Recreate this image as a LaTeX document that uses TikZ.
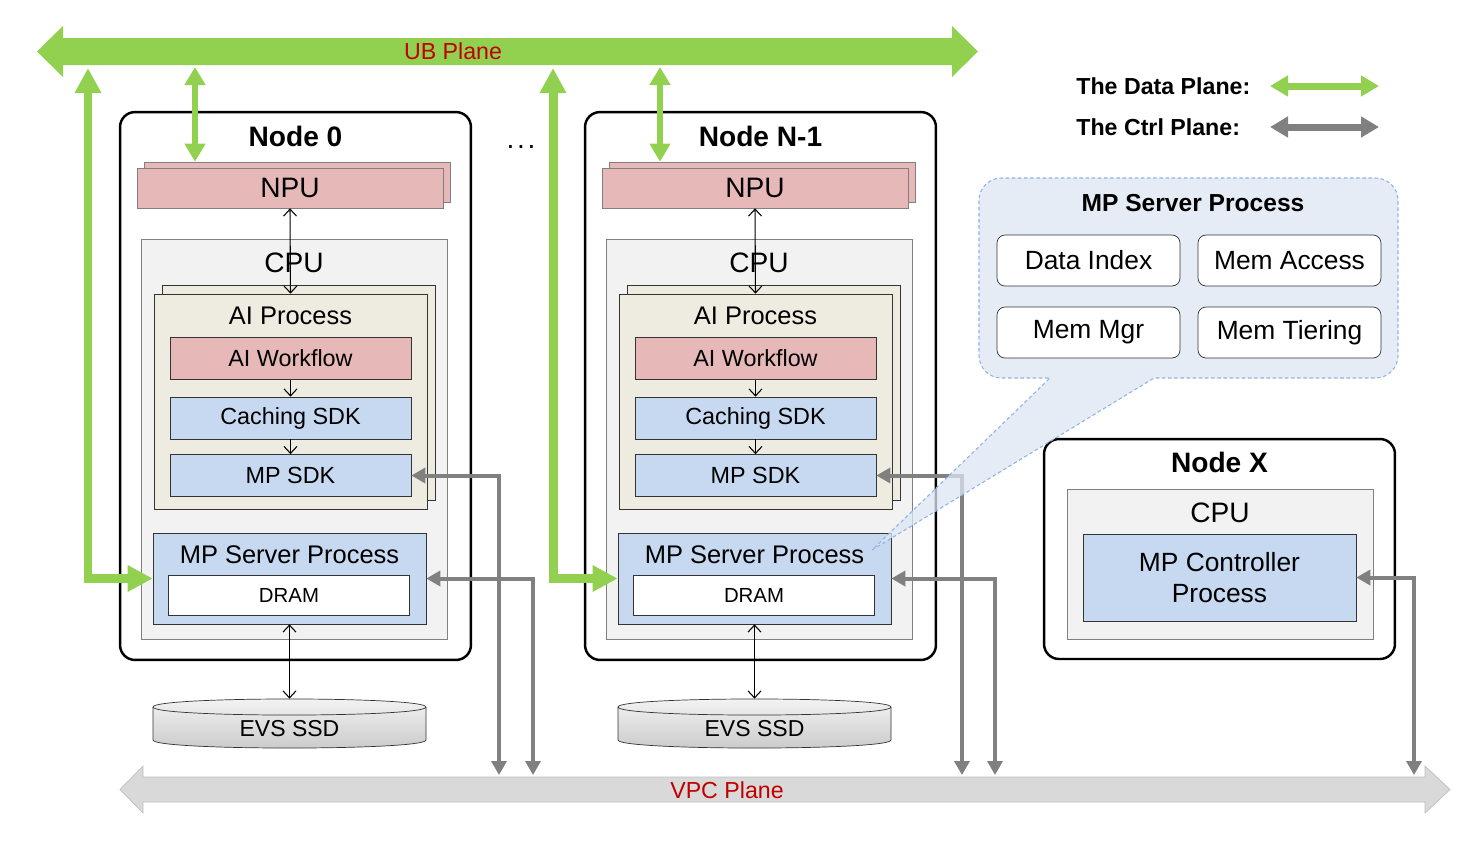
\documentclass[tikz,border=0pt]{standalone}
\usepackage{fontspec}
\setmainfont{Liberation Sans}
\usepackage{xcolor}
\usepackage{tikz}
\usetikzlibrary{arrows.meta, positioning}

\definecolor{ubgreen}{HTML}{92D050}
\definecolor{planered}{HTML}{C00000}
\definecolor{npupink}{HTML}{E6B9B8}
\definecolor{sdkblue}{HTML}{C6D9F1}
\definecolor{proctan}{HTML}{EEECE1}
\definecolor{cpugray}{HTML}{F2F2F2}
\definecolor{ctrlgray}{HTML}{808080}
\definecolor{vpcgray}{HTML}{D9D9D9}
\definecolor{vpcedge}{HTML}{BFBFBF}
\definecolor{bubblefill}{HTML}{DCE6F2}
\definecolor{bubbleline}{HTML}{8EB4E3}

\begin{document}
\begin{tikzpicture}[x=0.02cm, y=-0.02cm, >={Straight Barb[length=1.4mm, width=2.6mm]}]
    \tikzstyle{machine} = [rectangle, draw=black, line width=1.4pt, rounded corners=0.3cm, minimum width=7.02cm]
    \tikzstyle{nodetitle} = [font=\fontsize{16}{19}\selectfont\bfseries]
    \tikzstyle{boxtext} = [font=\fontsize{16}{19}\selectfont]
    \tikzstyle{proctext} = [font=\fontsize{14.5}{18}\selectfont]
    \tikzstyle{npu} = [rectangle, draw=gray, fill=npupink, minimum width=6.12cm, minimum height=0.8cm, inner sep=1pt, font=\fontsize{16}{19}\selectfont]
    \tikzstyle{cpu} = [rectangle, draw=gray, fill=cpugray, minimum width=6.12cm]
    \tikzstyle{aiproc} = [rectangle, draw=gray!40!black, fill=proctan, minimum width=5.46cm, minimum height=4.3cm]
    \tikzstyle{sdkbox} = [rectangle, draw=gray!40!black, minimum width=4.82cm, minimum height=0.84cm, inner sep=1pt, font=\fontsize{13.3}{16}\selectfont]
    \tikzstyle{server} = [rectangle, draw=gray!40!black, fill=sdkblue, minimum width=5.46cm, minimum height=1.82cm]
    \tikzstyle{disk} = [rectangle, minimum width=5.46cm, minimum height=1.2cm, font=\fontsize{13.1}{16}\selectfont]
    \tikzstyle{diskbody} = [draw=gray!40!black, top color=gray!8, bottom color=gray!42]
    \tikzstyle{module} = [rectangle, draw=gray!40!black, fill=white, rounded corners=0.16cm, minimum width=3.66cm, minimum height=1.02cm, font=\fontsize{15}{18}\selectfont]
    \tikzstyle{plane} = [font=\fontsize{13.2}{16}\selectfont, text=planered]
    \tikzstyle{legendtext} = [font=\fontsize{13.2}{16}\selectfont\bfseries, anchor=west, inner sep=0pt]
    \tikzstyle{link} = [draw, ->, line width=0.6pt]
    \tikzstyle{dlink} = [draw, <->, line width=0.6pt]
    \tikzstyle{ctrl} = [draw=ctrlgray, line width=0.08cm, {Triangle[width=0.3cm, length=0.28cm]}-{Triangle[width=0.3cm, length=0.28cm]}]
    \tikzstyle{data} = [draw=ubgreen, line width=0.18cm, {Triangle[width=0.5cm, length=0.5cm]}-{Triangle[width=0.5cm, length=0.5cm]}]
    \tikzstyle{datathin} = [draw=ubgreen, line width=0.12cm, {Triangle[width=0.4cm, length=0.36cm]}-{Triangle[width=0.4cm, length=0.36cm]}]
    \tikzstyle{legarrow} = [line width=0.14cm, {Triangle[width=0.4cm, length=0.36cm]}-{Triangle[width=0.4cm, length=0.36cm]}]

    \useasboundingbox (0,0) rectangle (1475,840);

    % the two planes
    \fill[ubgreen] (37,51.5) -- (63,26) -- (63,38) -- (952,38) -- (952,26) -- (978,51.5) -- (952,77) -- (952,65) -- (63,65) -- (63,77) -- cycle;
    \draw[vpcedge, fill=vpcgray] (120,789.5) -- (143,766) -- (143,777) -- (1425,777) -- (1425,766) -- (1450,789.5) -- (1425,813) -- (1425,802) -- (143,802) -- (143,813) -- cycle;
    \node[plane] (ub) at (453,51) {UB Plane};
    \node[plane] (vpc) at (727,790) {VPC Plane};

    % Node 0
    \node[machine, minimum height=10.96cm] (n0) at (295.5,386) {};
    \node[nodetitle] at (295.5,136) {Node 0};
    \node[npu] (npub0) at (297,182) {};
    \node[npu] (npu0) at (290,188) {NPU};
    \node[cpu, minimum height=8cm] (cpu0) at (294,439) {};
    \node[boxtext] at (294,263) {CPU};
    \node[aiproc] (aipb0) at (299,393) {};
    \node[aiproc] (aip0) at (290.5,401.5) {};
    \node[proctext] at (290.5,316) {AI Process};
    \node[sdkbox, fill=npupink] (wf0) at (290.5,358.5) {AI Workflow};
    \node[sdkbox, fill=sdkblue] (cache0) at (290.5,418) {Caching SDK};
    \node[sdkbox, fill=sdkblue] (sdk0) at (290.5,475.5) {MP SDK};
    \node[server] (srv0) at (289.5,578.5) {};
    \node[proctext] at (289.5,555) {MP Server Process};
    \node[sdkbox, fill=white, minimum height=0.8cm, font=\fontsize{11.6}{14}\selectfont] (dram0) at (289,595) {DRAM};
    \draw[diskbody] (153,707) -- (153,740) .. controls (153,750.7) and (426,750.7) .. (426,740) -- (426,707) .. controls (426,696.3) and (153,696.3) .. (153,707) -- cycle;
    \draw[gray!40!black] (153,707) .. controls (153,717.7) and (426,717.7) .. (426,707);
    \node[disk] (ssd0) at (289.5,729) {EVS SSD};

    \path[dlink] (npu0.south) -- (aip0.north);
    \path[link] (wf0) -- (cache0);
    \path[link] (cache0) -- (sdk0);
    \path[dlink] (srv0.south) -- (ssd0.north);

    % Node N-1
    \node[machine, minimum height=10.96cm] (n1) at (760.5,386) {};
    \node[nodetitle] at (760.5,136) {Node N-1};
    \node[npu] (npub1) at (762,182) {};
    \node[npu] (npu1) at (755,188) {NPU};
    \node[cpu, minimum height=8cm] (cpu1) at (759,439) {};
    \node[boxtext] at (759,263) {CPU};
    \node[aiproc] (aipb1) at (764,393) {};
    \node[aiproc] (aip1) at (755.5,401.5) {};
    \node[proctext] at (755.5,316) {AI Process};
    \node[sdkbox, fill=npupink] (wf1) at (755.5,358.5) {AI Workflow};
    \node[sdkbox, fill=sdkblue] (cache1) at (755.5,418) {Caching SDK};
    \node[sdkbox, fill=sdkblue] (sdk1) at (755.5,475.5) {MP SDK};
    \node[server] (srv1) at (754.5,578.5) {};
    \node[proctext] at (754.5,555) {MP Server Process};
    \node[sdkbox, fill=white, minimum height=0.8cm, font=\fontsize{11.6}{14}\selectfont] (dram1) at (754,595) {DRAM};
    \draw[diskbody] (618,707) -- (618,740) .. controls (618,750.7) and (891,750.7) .. (891,740) -- (891,707) .. controls (891,696.3) and (618,696.3) .. (618,707) -- cycle;
    \draw[gray!40!black] (618,707) .. controls (618,717.7) and (891,717.7) .. (891,707);
    \node[disk] (ssd1) at (754.5,729) {EVS SSD};

    \path[dlink] (npu1.south) -- (aip1.north);
    \path[link] (wf1) -- (cache1);
    \path[link] (cache1) -- (sdk1);
    \path[dlink] (srv1.south) -- (ssd1.north);

    \node[boxtext] (dots) at (521,147) {.\hspace{1.5pt}.\hspace{1.5pt}.};

    % Node X
    \node[machine, minimum height=4.4cm] (nx) at (1219.5,549) {};
    \node[nodetitle] at (1219.5,462) {Node X};
    \node[cpu, minimum height=3cm] (cpux) at (1220,564) {};
    \node[boxtext] at (1220,513) {CPU};
    \node[server, minimum height=1.74cm, align=center, font=\fontsize{15}{18}\selectfont] (ctl) at (1219.5,577.5) {MP Controller\\Process};

    % data plane links
    \coordinate (u0l) at (88,68);
    \coordinate (u0n) at (195,67);
    \coordinate (u1l) at (553,68);
    \coordinate (u1n) at (660,67);
    \draw[data] (u0l) |- (srv0.west);
    \draw[datathin] (u0n) -- (u0n |- npub0.north);
    \draw[data] (u1l) |- (srv1.west);
    \draw[datathin] (u1n) -- (u1n |- npub1.north);

    % ctrl plane links
    \coordinate (v0a) at (499,775);
    \coordinate (v0b) at (533,775);
    \coordinate (v1a) at (962,775);
    \coordinate (v1b) at (995,775);
    \coordinate (vxa) at (1414,775);
    \draw[ctrl] (sdk0.east) -| (v0a);
    \draw[ctrl] (srv0.east) -| (v0b);
    \draw[ctrl] (sdk1.east) -| (v1a);
    \draw[ctrl] (srv1.east) -| (v1b);
    \draw[ctrl] (ctl.east) -| (vxa);

    % zoom of the MP server process
    \path[draw=bubbleline, fill=bubblefill, fill opacity=0.75, dash pattern=on 2pt off 1.5pt, line width=0.6pt] (872,550) -- (1154,378) [rounded corners=0.45cm] -- (1398,378) -- (1398,178) -- (979,178) -- (979,378) [sharp corners] -- (1050,378) -- cycle;
    \node[nodetitle, font=\fontsize{14}{17}\selectfont\bfseries] at (1193,203) {MP Server Process};
    \node[module] (idx) at (1088.5,260.5) {Data Index};
    \node[module] (acc) at (1289.5,260.5) {Mem Access};
    \node[module] (mgr) at (1088.5,332.5) {Mem Mgr};
    \node[module] (tier) at (1289.5,332.5) {Mem Tiering};

    % legend
    \node[legendtext] (ldata) at (1076,86) {The Data Plane:};
    \node[legendtext] (lctrl) at (1076,127) {The Ctrl Plane:};
    \coordinate (ld1) at (1270,86);
    \coordinate (ld2) at (1379,86);
    \coordinate (lc1) at (1270,127);
    \coordinate (lc2) at (1379,127);
    \draw[legarrow, draw=ubgreen] (ld1) -- (ld2);
    \draw[legarrow, draw=ctrlgray] (lc1) -- (lc2);
\end{tikzpicture}
\end{document}
